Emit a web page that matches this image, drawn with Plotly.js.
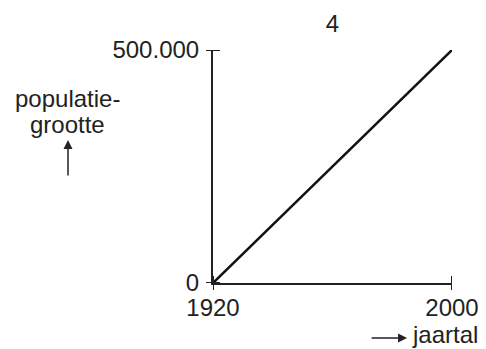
<!DOCTYPE html>
<html>
<head>
<meta charset="utf-8">
<script src="https://cdn.plot.ly/plotly-3.0.1.min.js"></script>
<style>
  html, body { margin: 0; padding: 0; background: #ffffff; }
  #grafiek { width: 486px; height: 349px; }
</style>
</head>
<body>
<div id="grafiek"></div>
<script>
// Populatiegrootte tegen jaartal (grafiek 4)
const jaren = [1920, 2000];
const populatie = [0, 500000];
const xTicks = [1920, 2000];
const xTickLabels = ['1920', '2000'];
const yTicks = [0, 500000];
const yTickLabels = ['0', '500.000'];

const lettertype = { family: 'Liberation Sans, Arial, sans-serif', size: 24, color: '#222222' };
const inktkleur = '#222222';

const data = [
    {
        x: jaren,
        y: populatie,
        type: 'scatter',
        mode: 'lines',
        line: { color: '#111111', width: 2.5 },
        cliponaxis: false,
        hoverinfo: 'skip',
        showlegend: false
    }
];

// streepjes die de as kruisen (aan beide kanten), op de tick-posities
const streepjes = [];
xTicks.forEach(v => {
    streepjes.push({
        type: 'line', xref: 'x', yref: 'paper',
        ysizemode: 'pixel', yanchor: 0,
        x0: v, x1: v, y0: -7, y1: 7,
        line: { color: inktkleur, width: 2 }
    });
});
yTicks.forEach(v => {
    streepjes.push({
        type: 'line', xref: 'paper', yref: 'y',
        xsizemode: 'pixel', xanchor: 0,
        x0: -7, x1: 7, y0: v, y1: v,
        line: { color: inktkleur, width: 2 }
    });
});

const layout = {
    width: 486,
    height: 349,
    margin: { l: 213, r: 34, t: 50, b: 66 },
    paper_bgcolor: '#ffffff',
    plot_bgcolor: '#ffffff',
    font: lettertype,
    title: {
        text: '4',
        font: lettertype,
        xref: 'paper',
        x: 0.5,
        xanchor: 'center',
        yref: 'container',
        y: 0.931,
        yanchor: 'middle'
    },
    xaxis: {
        range: [1920, 2000],
        showgrid: false,
        zeroline: false,
        fixedrange: true,
        showline: true,
        linecolor: inktkleur,
        linewidth: 2,
        ticks: 'inside',
        ticklen: 7,
        tickwidth: 2,
        tickcolor: inktkleur,
        tickmode: 'array',
        tickvals: xTicks,
        ticktext: xTickLabels,
        ticklabelstandoff: 2,
        tickfont: lettertype
    },
    yaxis: {
        range: [0, 500000],
        showgrid: false,
        zeroline: false,
        fixedrange: true,
        showline: true,
        linecolor: inktkleur,
        linewidth: 2,
        ticks: 'inside',
        ticklen: 7,
        tickwidth: 2,
        tickcolor: inktkleur,
        tickmode: 'array',
        tickvals: yTicks,
        ticktext: yTickLabels,
        ticklabelstandoff: 7,
        tickfont: lettertype
    },
    shapes: streepjes,
    annotations: [
        { text: 'populatie-', xref: 'paper', yref: 'paper', x: -0.6067, y: 0.790, xanchor: 'center', yanchor: 'middle', showarrow: false, font: lettertype },
        { text: 'grootte', xref: 'paper', yref: 'paper', x: -0.6067, y: 0.682, xanchor: 'center', yanchor: 'middle', showarrow: false, font: lettertype },
        // pijl omhoog onder de y-titel
        { text: '', xref: 'paper', yref: 'paper', x: -0.6067, y: 0.614, ax: 0, ay: 37, showarrow: true, arrowhead: 2, arrowsize: 1.2, arrowwidth: 1.5, arrowcolor: inktkleur },
        // pijl naar rechts voor de x-titel
        { text: '', xref: 'paper', yref: 'paper', x: 0.812, y: -0.236, ax: -37, ay: 0, showarrow: true, arrowhead: 2, arrowsize: 1.2, arrowwidth: 1.5, arrowcolor: inktkleur },
        { text: 'jaartal', xref: 'paper', yref: 'paper', x: 0.969, y: -0.219, xanchor: 'center', yanchor: 'middle', borderpad: 0, showarrow: false, font: lettertype }
    ],
    hovermode: false
};

Plotly.newPlot('grafiek', data, layout, { displayModeBar: false, staticPlot: true });
</script>
</body>
</html>
